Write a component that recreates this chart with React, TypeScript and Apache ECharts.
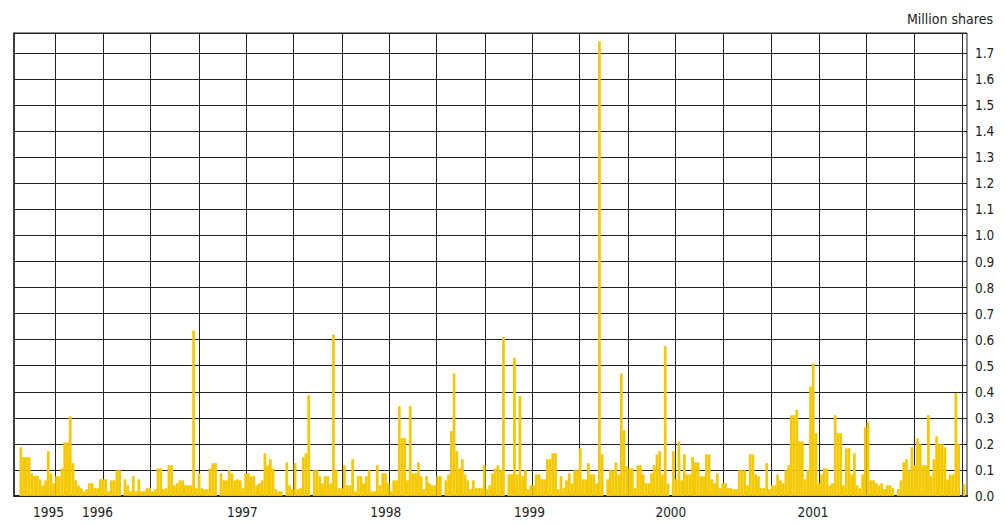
import React, { useEffect, useRef } from 'react';
import * as echarts from 'echarts';

// Weekly trading volume, million shares (first week starting 1995-05-18)
const firstWeekStart = '1995-05-18';
const axisStart = '1995-05-18';
const axisEnd = '2002-01-14';

const weeklyVolume = [
  0, 0, 0.187, 0.149, 0.149, 0.149, 0.087, 0.077, 0.077, 0.064,
  0.041, 0.06, 0.172, 0.087, 0.049, 0.076, 0.076, 0.106, 0.206, 0.206,
  0.306, 0.126, 0.06, 0.041, 0.03, 0.018, 0.026, 0.049, 0.049, 0.03,
  0.03, 0.064, 0.064, 0.064, 0.018, 0.06, 0.06, 0.099, 0.099, 0,
  0.064, 0.041, 0.018, 0.076, 0.018, 0.064, 0.018, 0.018, 0.03, 0.03,
  0.018, 0.026, 0.106, 0.106, 0.026, 0.03, 0.118,
  0.118, 0.041, 0.049, 0.06, 0.06, 0.041, 0.041, 0.041, 0.635, 0.03,
  0.087, 0.03, 0.026, 0.026, 0.106, 0.126, 0.126, 0, 0.087, 0.06,
  0.06, 0.099, 0.087, 0.06, 0.064, 0.06, 0.03, 0.087, 0.087, 0.076,
  0.076, 0.041, 0.049, 0.06, 0.164, 0.118, 0.141, 0.106, 0.026, 0.018,
  0.018, 0, 0.129, 0.041, 0.026, 0.126, 0.026, 0.03, 0.149, 0.164,
  0.387, 0, 0.099, 0.099, 0.076, 0.049, 0.076, 0.076,
  0.049, 0.62, 0.099, 0.03, 0.03, 0.118, 0.041, 0.041, 0.141, 0.018,
  0.076, 0.076, 0.049, 0.076, 0.099, 0.018, 0.018, 0.118, 0.041, 0.087,
  0.087, 0.049, 0.018, 0.06, 0.06, 0.345, 0.222, 0.222, 0.06, 0.345,
  0.087, 0.087, 0.129, 0.076, 0.026, 0.076, 0.049, 0.041, 0.041, 0.076,
  0.076, 0, 0.06, 0.083, 0.249, 0.47, 0.172, 0.106, 0.141, 0.083,
  0.06, 0.026, 0.06, 0.03, 0.03, 0.03, 0.118, 0.026,
  0.041, 0.087, 0.106, 0.118, 0.099, 0.61, 0, 0.083, 0.083, 0.53,
  0.083, 0.383, 0.076, 0.099, 0.026, 0.041, 0.041, 0.083, 0.083, 0.064,
  0.064, 0.141, 0.141, 0.164, 0.164, 0.026, 0.076, 0.03, 0.06, 0.087,
  0.049, 0.099, 0.099, 0.183, 0.064, 0.064, 0.126, 0.083, 0.083, 0.049,
  1.745, 0.16, 0, 0.064, 0.099, 0.099, 0.129, 0.083, 0.47, 0.253,
  0.114, 0.106, 0.106, 0.03, 0.118, 0.118, 0.083,
  0.049, 0.049, 0.087, 0.118, 0.16, 0.172, 0.083, 0.575, 0.049, 0,
  0.172, 0.064, 0.21, 0.06, 0.16, 0.083, 0.083, 0.149, 0.129, 0.129,
  0.076, 0.076, 0.16, 0.16, 0.064, 0.049, 0.087, 0.03, 0.049, 0.049,
  0.03, 0.03, 0.026, 0.026, 0.099, 0.099, 0.099, 0.041, 0.16, 0.16,
  0.083, 0.076, 0.03, 0.03, 0.126, 0.026, 0.041, 0.041, 0.083, 0.06,
  0.049, 0.099, 0.118, 0.31, 0.31, 0.33, 0.21, 0.21,
  0.064, 0.099, 0.42, 0.51, 0.241, 0.049, 0.083, 0.106, 0.106, 0.041,
  0.049, 0.31, 0.241, 0.241, 0.041, 0.183, 0.183, 0.083, 0.164, 0.041,
  0.03, 0.083, 0.264, 0.283, 0.06, 0.06, 0.049, 0.041, 0.049, 0.026,
  0.041, 0.041, 0.03, 0, 0.026, 0.06, 0.129, 0.141, 0.099, 0.187,
  0.118, 0.222, 0.199, 0.118, 0.118, 0.31, 0.076, 0.141, 0.229, 0.199,
  0.199, 0.187, 0.064, 0.083, 0.083, 0.395, 0.199, 0, 0.045,
];

// Vertical grid lines every four months
const gridDates = [
  '1995-09-01', '1996-01-01', '1996-05-01', '1996-09-01',
  '1997-01-01', '1997-05-01', '1997-09-01',
  '1998-01-01', '1998-05-01', '1998-09-01',
  '1999-01-01', '1999-05-01', '1999-09-01',
  '2000-01-01', '2000-05-01', '2000-09-01',
  '2001-01-01', '2001-05-01', '2001-09-01',
  '2002-01-01',
];

const yearLabels = ['1995', '1996', '1997', '1998', '1999', '2000', '2001'];
const yearLabelDates = [
  '1995-08-14', '1995-12-17', '1996-12-21', '1997-12-22',
  '1998-12-24', '1999-12-20', '2000-12-17',
];

const yMin = 0;
const yMax = 1.777;
const yInterval = 0.1;

const DAY = 86400000;
const toTs = (s: string) => new Date(s).getTime(); // UTC midnight
const dayOf = (s: string) => (toTs(s) - toTs(axisStart)) / DAY;

export default function App() {
  const ref = useRef<HTMLDivElement>(null);

  useEffect(() => {
    if (!ref.current) return;
    const chart = echarts.init(ref.current, undefined, { renderer: 'svg' });
    const first = dayOf(firstWeekStart);
    const barData = weeklyVolume.map((v, i) => [first + i * 7 + 3.5, v]);
    const labelDays = yearLabelDates.map(dayOf);
    const font = "'Liberation Sans Narrow', 'DejaVu Sans Condensed', 'Liberation Sans', sans-serif";

    chart.setOption({
      animation: false,
      backgroundColor: '#ffffff',
      title: {
        text: 'Million shares',
        right: 12,
        top: 12,
        padding: 0,
        textStyle: { fontFamily: font, fontSize: 14, fontWeight: 'normal', color: '#222' },
      },
      grid: {
        left: 14,
        right: 38,
        top: 33,
        bottom: 29,
        show: true,
        borderColor: '#222',
        borderWidth: 1,
        backgroundColor: '#ffffff',
      },
      xAxis: {
        type: 'value',
        min: 0,
        max: dayOf(axisEnd),
        axisLine: { show: true, lineStyle: { color: '#222', width: 2 } },
        axisTick: { show: false, customValues: gridDates.map(dayOf) },
        splitLine: { show: true, lineStyle: { color: '#222', width: 1 } },
        axisLabel: {
          customValues: labelDays,
          margin: 9,
          fontFamily: font,
          fontSize: 13.5,
          color: '#222',
          formatter: (val: number) => {
            let best = 0;
            let bestD = Infinity;
            labelDays.forEach((t, i) => {
              const d = Math.abs(t - val);
              if (d < bestD) { bestD = d; best = i; }
            });
            return yearLabels[best];
          },
        },
      },
      yAxis: {
        type: 'value',
        position: 'right',
        min: yMin,
        max: yMax,
        interval: yInterval,
        axisLine: { show: true, lineStyle: { color: '#222', width: 1.5 } },
        axisTick: { show: false },
        splitLine: { show: true, lineStyle: { color: '#222', width: 1 } },
        axisLabel: {
          showMaxLabel: false,
          margin: 8,
          fontFamily: font,
          fontSize: 13.5,
          color: '#222',
          formatter: (v: number) => v.toFixed(1),
        },
      },
      series: [
        {
          type: 'bar',
          data: barData,
          barWidth: '100%',
          silent: true,
          itemStyle: { color: '#F5C800' },
        },
      ],
    });

    return () => chart.dispose();
  }, []);

  return (
    <div
      ref={ref}
      style={{ position: 'fixed', left: 0, top: 0, width: 1005, height: 525 }}
    />
  );
}
